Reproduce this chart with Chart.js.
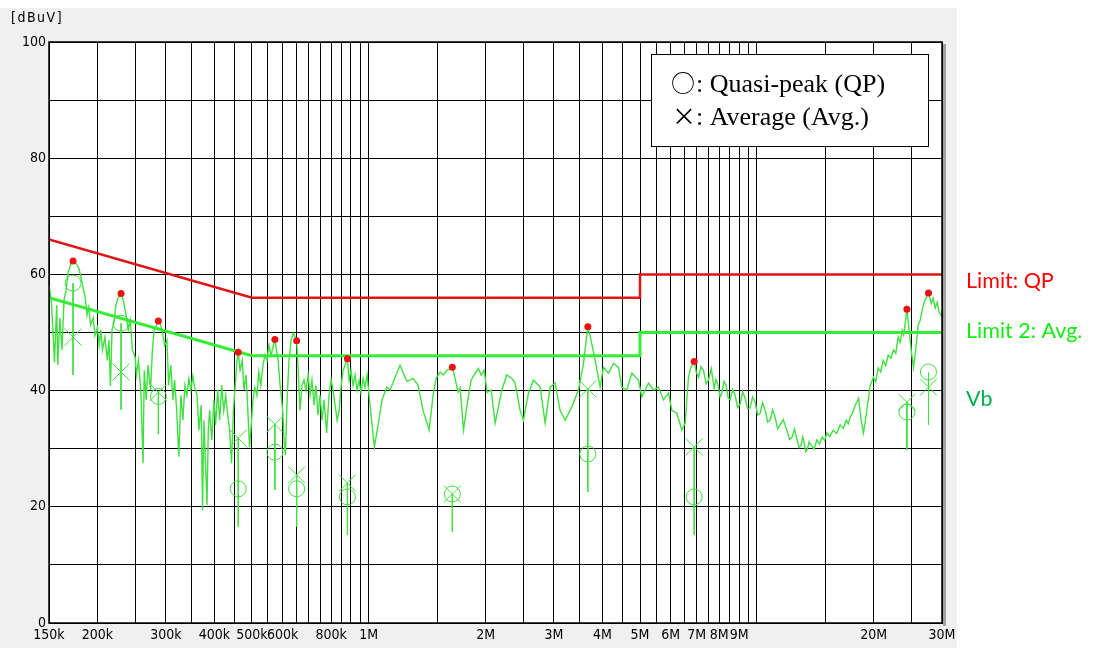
<!DOCTYPE html>
<html>
<head>
<meta charset="utf-8">
<script src="https://cdn.jsdelivr.net/npm/chart.js@4.4.1/dist/chart.umd.min.js"></script>
<style>
html,body{margin:0;padding:0;background:#fff;}
#wrap{position:relative;width:1093px;height:648px;}
</style>
</head>
<body>
<div id="wrap"><canvas id="emiChart" width="1093" height="648"></canvas></div>
<script>
// measured trace Vb (MHz / dBuV)
const vbFreq = [
0.150,0.152,0.154,0.155,0.157,0.158,0.160,0.162,0.164,0.166,
0.168,0.171,0.173,0.176,0.179,0.182,0.186,0.188,0.190,0.192,
0.195,0.197,0.200,0.202,0.204,0.206,0.209,0.212,0.214,0.216,
0.218,0.221,0.223,0.226,0.230,0.233,0.237,0.240,0.243,0.246,
0.250,0.252,0.255,0.259,0.262,0.264,0.267,0.270,0.274,0.277,
0.280,0.284,0.287,0.291,0.295,0.298,0.302,0.305,0.309,0.313,
0.316,0.320,0.324,0.328,0.332,0.336,0.340,0.344,0.348,0.352,
0.356,0.361,0.365,0.370,0.373,0.376,0.379,0.383,0.386,0.389,
0.394,0.399,0.403,0.408,0.413,0.418,0.423,0.428,0.433,0.438,
0.443,0.448,0.454,0.457,0.461,0.466,0.472,0.477,0.483,0.488,
0.493,0.499,0.503,0.509,0.515,0.521,0.527,0.534,0.540,0.547,
0.553,0.560,0.573,0.584,0.591,0.600,0.605,0.610,0.616,0.623,
0.631,0.639,0.652,0.657,0.665,0.673,0.681,0.689,0.698,0.706,
0.714,0.723,0.731,0.740,0.749,0.758,0.767,0.779,0.790,0.800,
0.809,0.819,0.829,0.839,0.849,0.859,0.869,0.881,0.890,0.900,
0.911,0.922,0.933,0.944,0.955,0.967,0.978,0.990,1.002,1.017,
1.034,1.057,1.082,1.113,1.135,1.162,1.204,1.233,1.255,1.301,
1.340,1.380,1.431,1.465,1.491,1.527,1.554,1.592,1.642,1.669,
1.699,1.720,1.754,1.792,1.835,1.869,1.917,1.948,1.983,2.019,
2.067,2.117,2.203,2.268,2.337,2.383,2.455,2.504,2.580,2.657,
2.765,2.848,2.933,3.021,3.112,3.207,3.336,3.470,3.576,3.669,
3.764,3.831,3.947,4.025,4.146,4.272,4.401,4.488,4.624,4.764,
4.954,5.055,5.257,5.416,5.579,5.746,5.920,6.041,6.222,6.410,
6.537,6.666,6.753,6.895,6.980,7.074,7.180,7.286,7.400,7.505,
7.630,7.763,7.850,7.950,8.040,8.126,8.230,8.336,8.440,8.536,
8.660,8.792,8.920,9.057,9.190,9.330,9.470,9.610,9.750,9.900,
10.05,10.20,10.35,10.51,10.66,10.82,10.98,11.15,11.31,11.48,
11.70,11.95,12.14,12.33,12.50,12.70,12.85,13.01,13.12,13.24,
13.36,13.48,13.64,13.81,14.05,14.28,14.50,14.74,14.95,15.15,
15.42,15.72,16.05,16.40,16.70,17.00,17.20,17.40,17.65,17.93,
18.10,18.29,18.57,18.83,19.13,19.59,19.98,20.25,20.54,20.85,
21.16,21.48,21.80,22.15,22.50,22.80,23.13,23.40,23.69,23.90,
24.12,24.36,24.69,24.98,25.33,25.74,26.05,26.36,26.84,27.15,
27.69,28.14,28.47,28.81,29.16,29.50,30.00
];
const vbLevel = [
58.1,55.6,48.7,44.9,54.7,44.4,52.5,47.0,55.6,57.3,
60.4,61.8,62.3,61.9,61.1,59.0,55.9,53.0,54.4,51.3,
52.5,49.5,50.9,47.8,50.4,47.0,49.2,45.2,48.7,40.8,
50.4,52.1,54.7,55.9,56.7,55.6,53.0,50.4,52.1,47.0,
45.8,42.7,45.2,39.2,27.5,43.5,38.4,44.4,40.1,47.0,
50.4,51.3,52.0,51.3,49.5,47.8,48.7,40.9,44.4,38.4,
41.8,36.6,28.6,39.2,34.9,40.9,39.2,42.1,40.1,42.5,
40.5,39.2,33.2,37.5,19.4,34.9,28.9,20.3,33.2,36.6,
31.5,38.4,34.1,40.1,34.9,40.9,36.6,39.2,35.8,33.2,
27.5,36.6,41.8,44.9,46.6,43.5,45.2,40.1,42.7,36.6,
30.3,34.9,38.4,40.5,39.2,43.2,40.9,44.4,46.1,45.2,
47.8,46.1,48.8,45.2,40.9,36.6,31.5,28.9,38.4,45.2,
48.7,49.9,48.6,44.4,36.6,40.9,41.8,40.1,42.7,39.2,
41.8,37.5,40.9,35.8,39.2,34.9,38.4,32.7,39.2,41.8,
40.1,37.5,34.9,36.6,40.9,43.5,44.4,45.5,41.8,43.5,
40.9,42.7,40.1,41.8,39.7,42.1,40.5,42.7,39.2,34.9,
30.3,34.1,38.4,40.6,40.1,41.8,44.4,42.7,41.6,42.1,
40.9,36.6,33.2,39.2,42.1,43.2,42.7,43.5,44.0,42.1,
39.7,40.5,33.2,37.5,41.8,42.7,43.8,42.7,43.5,39.7,
40.1,34.4,40.1,42.7,42.1,41.3,36.6,34.9,39.6,41.8,
40.6,34.4,40.6,41.3,36.6,34.9,37.2,40.1,44.7,51.0,
47.8,45.2,40.6,44.0,43.0,44.7,44.0,40.6,40.1,43.0,
41.8,38.9,41.3,40.1,40.6,38.4,39.6,36.6,36.1,33.2,
34.4,42.3,43.9,45.0,43.2,42.3,44.1,43.5,41.2,41.8,
43.8,40.4,41.9,40.9,38.9,39.6,41.6,40.9,38.7,38.4,
40.2,39.2,37.1,37.7,39.8,38.7,36.9,37.0,38.9,38.0,
35.8,36.1,37.9,36.6,34.6,34.9,36.7,35.4,33.4,34.1,
35.0,33.2,31.6,32.0,33.4,31.5,30.2,30.6,32.0,31.1,
29.5,29.8,31.2,30.6,29.9,31.5,30.8,32.0,31.4,32.7,
32.1,33.2,32.6,34.1,33.5,34.9,34.3,35.4,36.2,37.5,
38.0,38.7,34.9,32.7,35.8,40.9,42.3,41.5,43.9,43.2,
45.2,44.3,46.1,45.6,47.0,46.4,49.2,48.3,50.4,49.6,
51.6,54.0,50.4,47.0,44.0,47.8,51.3,52.1,54.7,55.6,
56.8,55.0,55.9,54.2,55.2,53.5,52.8
];

// peak markers on the trace (red dots)
const peakFreq = [0.173, 0.230, 0.287, 0.461, 0.573, 0.652, 0.881, 1.642, 3.669, 6.895, 24.36, 27.69];
const peakLevel = [62.3, 56.7, 52.0, 46.6, 48.8, 48.6, 45.5, 44.0, 51.0, 45.0, 54.0, 56.8];

// final measurements at the same frequencies
const qpLevel = [58.5, 51.6, 39.0, 23.1, 29.4, 23.1, 21.7, 22.2, 29.1, 21.7, 36.3, 43.2];
const avgLevel = [49.2, 43.2, 39.7, 31.8, 34.2, 25.5, 24.1, 22.2, 40.3, 30.3, 38.0, 40.6];
const stemDrop = 6.5;

// limits
const limitFreq = [0.15, 0.5, 5, 5, 30];
const qpLimit = [66, 56, 56, 60, 60];
const avgLimit = [56, 46, 46, 50, 50];

// axes
const xGridFreq = [0.15,0.2,0.25,0.3,0.35,0.4,0.45,0.5,0.55,0.6,0.65,0.7,0.75,0.8,0.85,0.9,0.95,
  1,1.5,2,2.5,3,3.5,4,4.5,5,5.5,6,6.5,7,7.5,8,8.5,9,9.5,10,15,20,25,30];
const xLabelFreq = [0.15, 0.2, 0.3, 0.4, 0.5, 0.6, 0.8, 1, 2, 3, 4, 5, 6, 7, 8, 9, 20, 30];
const xLabelText = ['150k','200k','300k','400k','500k','600k','800k','1M','2M','3M','4M','5M','6M','7M','8M','9M','20M','30M'];
const yGrid = [0,10,20,30,40,50,60,70,80,90,100];
const yLabelStep = 20;

const pts = (xs, ys) => xs.map((x, i) => ({x: x, y: ys[i]}));

const stemData = [];
peakFreq.forEach((f, i) => {
  const top = Math.max(qpLevel[i], avgLevel[i]);
  const bottom = Math.min(qpLevel[i], avgLevel[i]) - stemDrop;
  stemData.push({x: f, y: top}, {x: f, y: bottom}, {x: f, y: null});
});

const tickFont = {family: '"Liberation Sans Narrow", "DejaVu Sans Condensed", "DejaVu Sans", sans-serif', size: 14};
const traceGreen = '#3fe03f';

const framePlugin = {
  id: 'frame',
  beforeDraw(chart) {
    const ctx = chart.ctx, a = chart.chartArea;
    ctx.save();
    ctx.fillStyle = '#fff';
    ctx.fillRect(0, 0, chart.width, chart.height);
    ctx.fillStyle = '#f0f0f0';
    ctx.fillRect(0, 8, 957, 640);
    ctx.fillStyle = '#a0a0a0';
    ctx.fillRect(a.right + 1, a.top + 2, 3, a.bottom - a.top + 1);
    ctx.fillStyle = '#fff';
    ctx.fillRect(a.left, a.top, a.right - a.left, a.bottom - a.top);
    ctx.restore();
  },
  afterDraw(chart) {
    const ctx = chart.ctx, a = chart.chartArea;
    ctx.save();
    // frame
    ctx.strokeStyle = '#000';
    ctx.lineWidth = 1.5;
    ctx.strokeRect(a.left, a.top, a.right - a.left, a.bottom - a.top);
    // unit
    ctx.fillStyle = '#000';
    ctx.font = '14px "Liberation Sans Narrow", "DejaVu Sans Condensed", sans-serif';
    ctx.textBaseline = 'middle';
    ctx.textAlign = 'left';
    ctx.letterSpacing = '1.5px';
    ctx.fillText('[dBuV]', 11, 18);
    ctx.letterSpacing = '0px';
    // legend box
    ctx.fillStyle = '#fff';
    ctx.fillRect(651, 54, 277, 92);
    ctx.strokeStyle = '#000';
    ctx.lineWidth = 1;
    ctx.strokeRect(651.5, 54.5, 277, 92);
    ctx.fillStyle = '#000';
    ctx.textBaseline = 'alphabetic';
    ctx.font = '24px "Noto Sans CJK JP"';
    ctx.textAlign = 'center';
    ctx.fillText('○', 683, 92);
    ctx.fillText('×', 684, 125);
    ctx.textAlign = 'left';
    ctx.font = '26px "Liberation Serif", serif';
    ctx.fillText(': Quasi-peak (QP)', 696, 92);
    ctx.fillText(': Average (Avg.)', 696, 125);
    // series names on the right
    ctx.font = '21.5px Lato, "Open Sans", sans-serif';
    ctx.textBaseline = 'middle';
    ctx.fillStyle = '#ff0000';
    ctx.fillText('Limit: QP', 966, 281);
    ctx.fillStyle = '#11ee11';
    ctx.fillText('Limit 2: Avg.', 966, 331);
    ctx.fillStyle = '#00b050';
    ctx.fillText('Vb', 966, 399);
    ctx.restore();
  }
};

new Chart('emiChart', {
  type: 'scatter',
  data: {
    datasets: [
      {label: 'peaks', data: pts(peakFreq, peakLevel), showLine: false, pointRadius: 3.5,
        pointBackgroundColor: '#ee1111', pointBorderWidth: 0, order: 0},
      {label: 'QP', data: pts(peakFreq, qpLevel), showLine: false, pointStyle: 'circle', pointRadius: 8,
        pointBackgroundColor: 'rgba(0,0,0,0)', pointBorderColor: traceGreen, pointBorderWidth: 1, order: 1},
      {label: 'Avg', data: pts(peakFreq, avgLevel), showLine: false, pointStyle: 'crossRot', pointRadius: 12,
        pointBorderColor: traceGreen, pointBorderWidth: 1, order: 1},
      {label: 'stems', data: stemData, showLine: true, spanGaps: false, pointRadius: 0,
        borderColor: traceGreen, borderWidth: 1, order: 2},
      {label: 'Vb', data: pts(vbFreq, vbLevel), showLine: true, pointRadius: 0,
        borderColor: traceGreen, borderWidth: 1.4, tension: 0, order: 3},
      {label: 'Limit 2: Avg.', data: pts(limitFreq, avgLimit), showLine: true, pointRadius: 0,
        borderColor: '#33ee33', borderWidth: 3, order: 4},
      {label: 'Limit: QP', data: pts(limitFreq, qpLimit), showLine: true, pointRadius: 0,
        borderColor: '#dd1515', borderWidth: 2.5, order: 4}
    ]
  },
  options: {
    responsive: false,
    animation: false,
    events: [],
    layout: {padding: {left: 0, right: 151, top: 42, bottom: 0}},
    plugins: {legend: {display: false}, tooltip: {enabled: false}},
    scales: {
      x: {
        type: 'logarithmic',
        min: 0.15,
        max: 30,
        bounds: 'data',
        afterBuildTicks: s => { s.ticks = xGridFreq.map(v => ({value: v})); },
        afterFit: s => { s.height = 25; },
        grid: {color: '#000', lineWidth: 1, drawTicks: false},
        border: {display: true, color: '#000', width: 1},
        ticks: {
          autoSkip: false, maxRotation: 0, minRotation: 0, padding: 4,
          color: '#000', font: tickFont,
          callback: v => {
            const i = xLabelFreq.findIndex(f => Math.abs(f - v) / f < 1e-6);
            return i >= 0 ? xLabelText[i] : '';
          }
        }
      },
      y: {
        type: 'linear',
        min: 0,
        max: 100,
        afterBuildTicks: s => { s.ticks = yGrid.map(v => ({value: v})); },
        afterFit: s => { s.width = 49; },
        grid: {color: '#000', lineWidth: 1, drawTicks: false},
        border: {display: true, color: '#000', width: 1},
        ticks: {
          autoSkip: false, padding: 3, color: '#000', font: tickFont,
          callback: v => (v % yLabelStep === 0 ? String(v) : '')
        }
      }
    }
  },
  plugins: [framePlugin]
});
</script>
</body>
</html>
